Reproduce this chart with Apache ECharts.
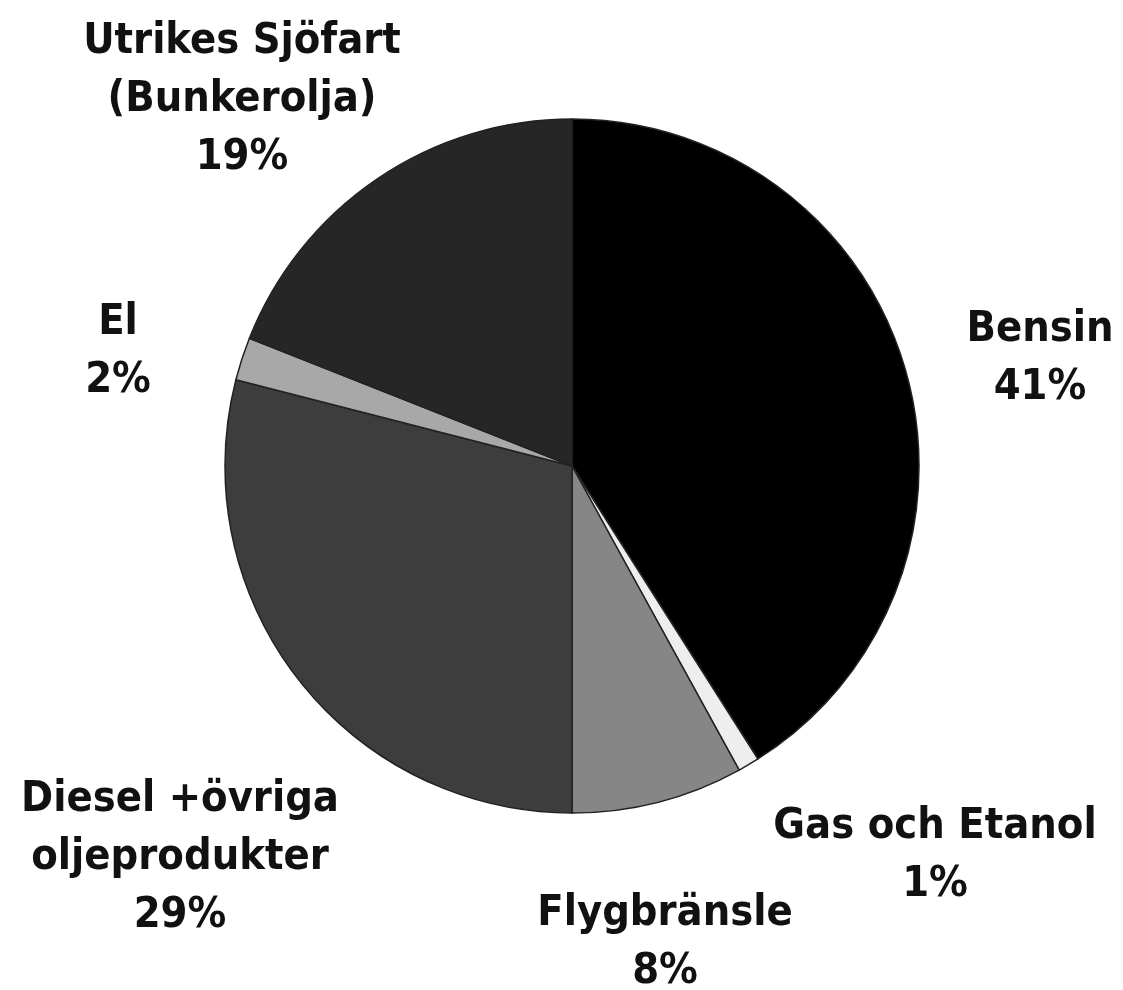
<!DOCTYPE html>
<html lang="sv">
<head>
    <meta charset="UTF-8">
    <title>Energianvändning</title>
    <style>
        html, body { margin: 0; padding: 0; background: #fff; }
    </style>
</head>
<body>
<div id="main" style="width: 1123px;height:990px;"></div>
<script src="https://cdn.jsdelivr.net/npm/echarts@6/dist/echarts.min.js"></script>
<script type="text/javascript">
    // data, clockwise from the top
    var categories = ['Bensin', 'Gas och Etanol', 'Flygbränsle', 'Diesel +övriga\noljeprodukter', 'El', 'Utrikes Sjöfart\n(Bunkerolja)'];
    var shares = [41, 1, 8, 29, 2, 19];
    var sliceColors = ['#000000', '#eeeeee', '#868686', '#3d3d3d', '#a8a8a8', '#262626'];

    // label centres (x, y of middle of label block)
    var labelPos = [
        [1040, 359],
        [935, 856],
        [665, 943],
        [180, 858],
        [118, 352],
        [242, 100]
    ];

    var data = categories.map(function (name, i) {
        return { name: name, value: shares[i], itemStyle: { color: sliceColors[i] } };
    });

    var myChart = echarts.init(document.getElementById('main'));

    var option = {
        backgroundColor: '#fff',
        animation: false,
        series: [
            {
                type: 'pie',
                center: [572, 466],
                radius: 347,
                startAngle: 90,
                clockwise: true,
                data: data,
                itemStyle: {
                    borderColor: '#222',
                    borderWidth: 1.5
                },
                label: {
                    show: true,
                    position: 'outside',
                    formatter: '{b}\n{c}%',
                    fontFamily: '"Liberation Sans Narrow", "DejaVu Sans Condensed", "Liberation Sans", sans-serif',
                    fontWeight: 'bold',
                    fontSize: 43,
                    lineHeight: 58,
                    color: '#111',
                    align: 'center',
                    overflow: 'none',
                    width: 500
                },
                labelLine: { show: false },
                labelLayout: function (params) {
                    var p = labelPos[params.dataIndex];
                    return { x: p[0], y: p[1], align: 'center', verticalAlign: 'middle' };
                }
            }
        ]
    };

    myChart.setOption(option);
</script>
</body>
</html>
